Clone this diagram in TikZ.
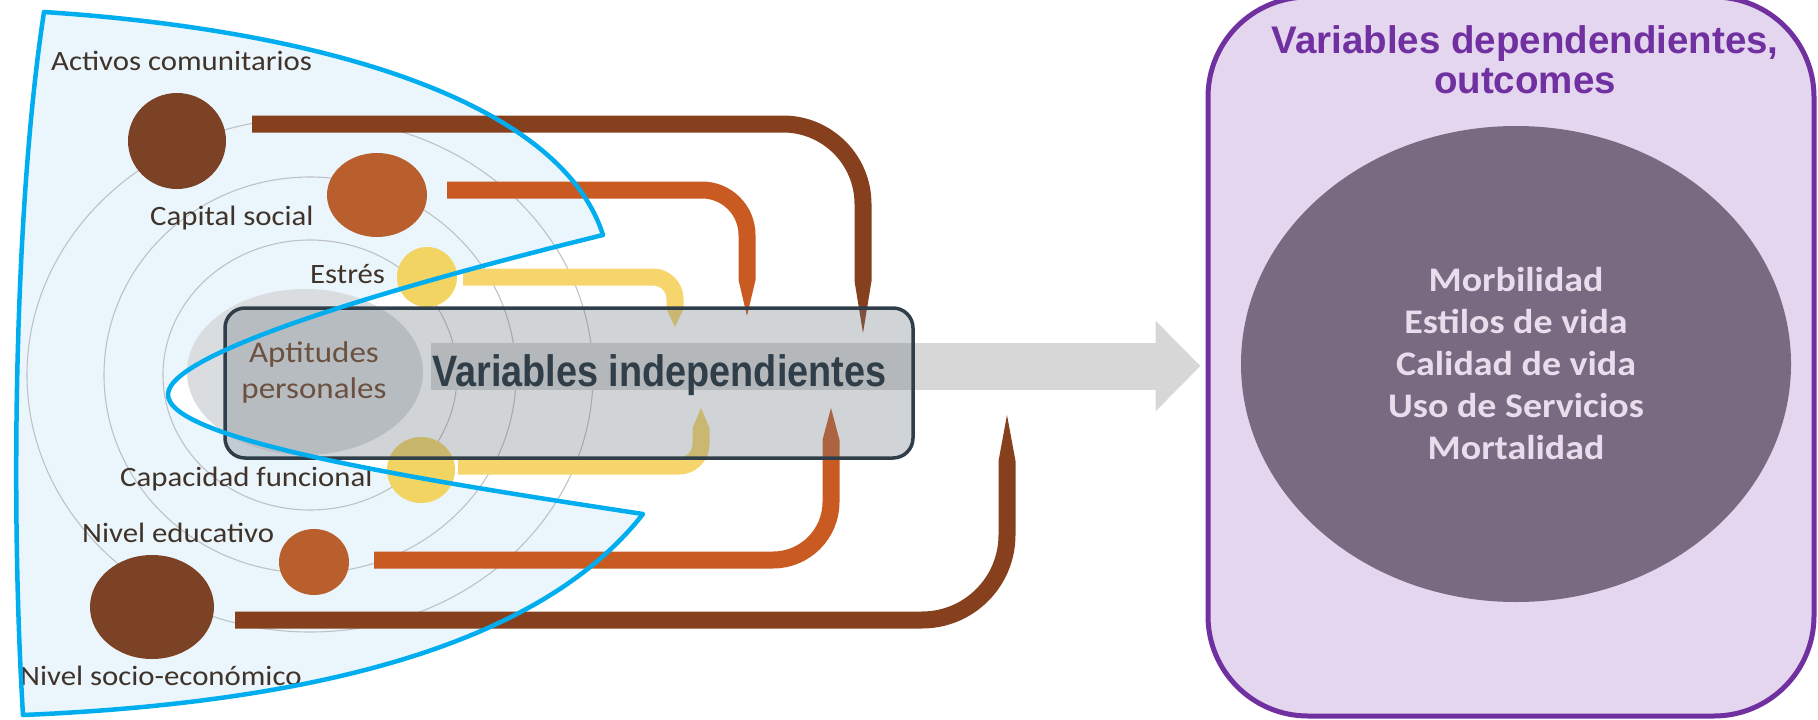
\documentclass[tikz,border=0pt]{standalone}
\usepackage{fontspec}
\setmainfont{Liberation Sans}
\newfontfamily\labfont[FakeStretch=1.1]{Carlito}
\newfontfamily\narrowfont[FakeStretch=0.86]{Liberation Sans}
\usetikzlibrary{shapes.geometric, arrows.meta}
\definecolor{bluefill}{HTML}{EAF5FC}
\definecolor{blueline}{HTML}{00AEEF}
\definecolor{ringgray}{HTML}{BEC2C4}
\definecolor{aptgray}{HTML}{DADDE0}
\definecolor{darkdot}{HTML}{7B4226}
\definecolor{darkbar}{HTML}{86401D}
\definecolor{orangedot}{HTML}{B95F2E}
\definecolor{orangebar}{HTML}{C95B22}
\definecolor{yellowdot}{HTML}{F2D463}
\definecolor{yellowbar}{HTML}{F6D66C}
\definecolor{labtext}{HTML}{3F332A}
\definecolor{apttext}{HTML}{6B3E22}
\definecolor{slate}{HTML}{2F3E48}
\definecolor{boxgray}{HTML}{6F7880}
\definecolor{arrowgray}{HTML}{D7D7D7}
\definecolor{lavender}{HTML}{E3D6EE}
\definecolor{purpleline}{HTML}{7030A0}
\definecolor{ovalfill}{HTML}{796A82}
\definecolor{ovaltext}{HTML}{E8DDEC}
\tikzstyle{dot}=[ellipse,inner sep=0pt]
\tikzstyle{ring}=[ringgray,line width=1.1pt]
\tikzstyle{lab}=[labtext,inner sep=0pt,anchor=base west,font=\labfont\fontsize{28}{30}\selectfont]
\tikzset{bar/.style={line width=17pt,-{Triangle[length=#1,width=17pt,line width=0pt 0]}}}

\begin{document}
\begin{tikzpicture}[x=1pt,y=-1pt]
    \useasboundingbox (0,0) rectangle (1818,720);
    % zona azul
    \fill[bluefill] (44,12) .. controls (320,30) and (560,100) .. (603,235)
        .. controls (420,280) and (170,350) .. (168,394)
        .. controls (166,440) and (420,480) .. (643,514)
        .. controls (560,620) and (380,700) .. (23,715)
        .. controls (10,500) and (15,200) .. (44,12) -- cycle;
    % caja de la derecha
    \node[draw=purpleline,fill=lavender,line width=5pt,rounded corners=100pt,minimum width=606pt,minimum height=719pt] (dep) at (1511,356.5) {};
    \node[dot,fill=ovalfill,minimum width=550pt,minimum height=476pt,align=center,text=ovaltext,font=\labfont\bfseries\fontsize{34.5}{42}\selectfont] (oval) at (1516,364) {Morbilidad\\Estilos de vida\\Calidad de vida\\Uso de Servicios\\Mortalidad};
    \node[text=purpleline,align=center,font=\bfseries\fontsize{38.5}{40}\selectfont] (dtitle) at (1525,60) {Variables dependendientes,\\outcomes};
    % orbitas
    \foreach \rx/\ry in {147/135, 206/198, 283/257}
        \draw[ring] (310,375) ellipse [x radius=\rx, y radius=\ry];
    \fill[aptgray] (305,372) ellipse [x radius=118, y radius=83];
    % circulos
    \node[dot,fill=darkdot,minimum width=98pt,minimum height=96pt] (act) at (177,141) {};
    \node[dot,fill=orangedot,minimum width=100pt,minimum height=84pt] (cap) at (377,195) {};
    \node[dot,fill=yellowdot,minimum width=60pt,minimum height=60pt] (est) at (427,277) {};
    \node[dot,fill=yellowdot,minimum width=68pt,minimum height=66pt] (capf) at (421,470) {};
    \node[dot,fill=orangedot,minimum width=70pt,minimum height=66pt] (edu) at (314,562) {};
    \node[dot,fill=darkdot,minimum width=124pt,minimum height=104pt] (ses) at (152,607) {};
    % puntas
    \coordinate (tipA) at (863,333);
    \coordinate (tipB) at (747,316);
    \coordinate (tipC) at (675,327);
    \coordinate (tipD) at (701,408);
    \coordinate (tipE) at (831,408);
    \coordinate (tipF) at (1007,415);
    \draw[bar=52pt,darkbar,rounded corners=80pt] (act.east) ++(26,-17) -| (tipA);
    \draw[bar=36pt,orangebar,rounded corners=45pt] (cap.east) ++(20,-5) -| (tipB);
    \draw[bar=18pt,yellowbar,rounded corners=22pt] (est.east) ++(6,0) -| (tipC);
    \draw[bar=20pt,yellowbar,rounded corners=22pt] (capf.east) ++(3,-4) -| (tipD);
    \draw[bar=32pt,orangebar,rounded corners=58pt] (edu.east) ++(25,-2) -| (tipE);
    \draw[bar=46pt,darkbar,rounded corners=85pt] (ses.east) ++(21,13) -| (tipF);
    % etiquetas
    \node[lab] (lact) at (51,70) {Activos comunitarios};
    \node[lab] (lcap) at (150,225) {Capital social};
    \node[lab] (lest) at (310,283) {Estrés};
    \node[lab,text=apttext,anchor=base,align=center,font=\labfont\fontsize{30}{36}\selectfont] (lapt) at (314,398) {Aptitudes\\personales};
    \node[lab] (lcapf) at (120,486) {Capacidad funcional};
    \node[lab] (ledu) at (82,542) {Nivel educativo};
    \node[lab] (lses) at (20,685) {Nivel socio-económico};
    % flecha gris
    \coordinate (bandL) at (431,366);
    \draw[arrowgray,line width=47pt,-{Triangle[length=45pt,width=88pt]},shorten >=5pt] (bandL) -- (bandL -| dep.west);
    % caja variables independientes
    \node[draw=slate,fill=boxgray,fill opacity=0.32,line width=3.5pt,rounded corners=20pt,minimum width=688pt,minimum height=150pt] (ivbox) at (569,383) {};
    \node[text=slate,inner sep=0pt,anchor=base west,font=\narrowfont\bfseries\fontsize{44}{48}\selectfont] (indep) at (432,386) {Variables independientes};
    % borde azul
    \draw[blueline,line width=4.5pt,line join=round] (44,12) .. controls (320,30) and (560,100) .. (603,235)
        .. controls (420,280) and (170,350) .. (168,394)
        .. controls (166,440) and (420,480) .. (643,514)
        .. controls (560,620) and (380,700) .. (23,715)
        .. controls (10,500) and (15,200) .. (44,12) -- cycle;
\end{tikzpicture}
\end{document}
